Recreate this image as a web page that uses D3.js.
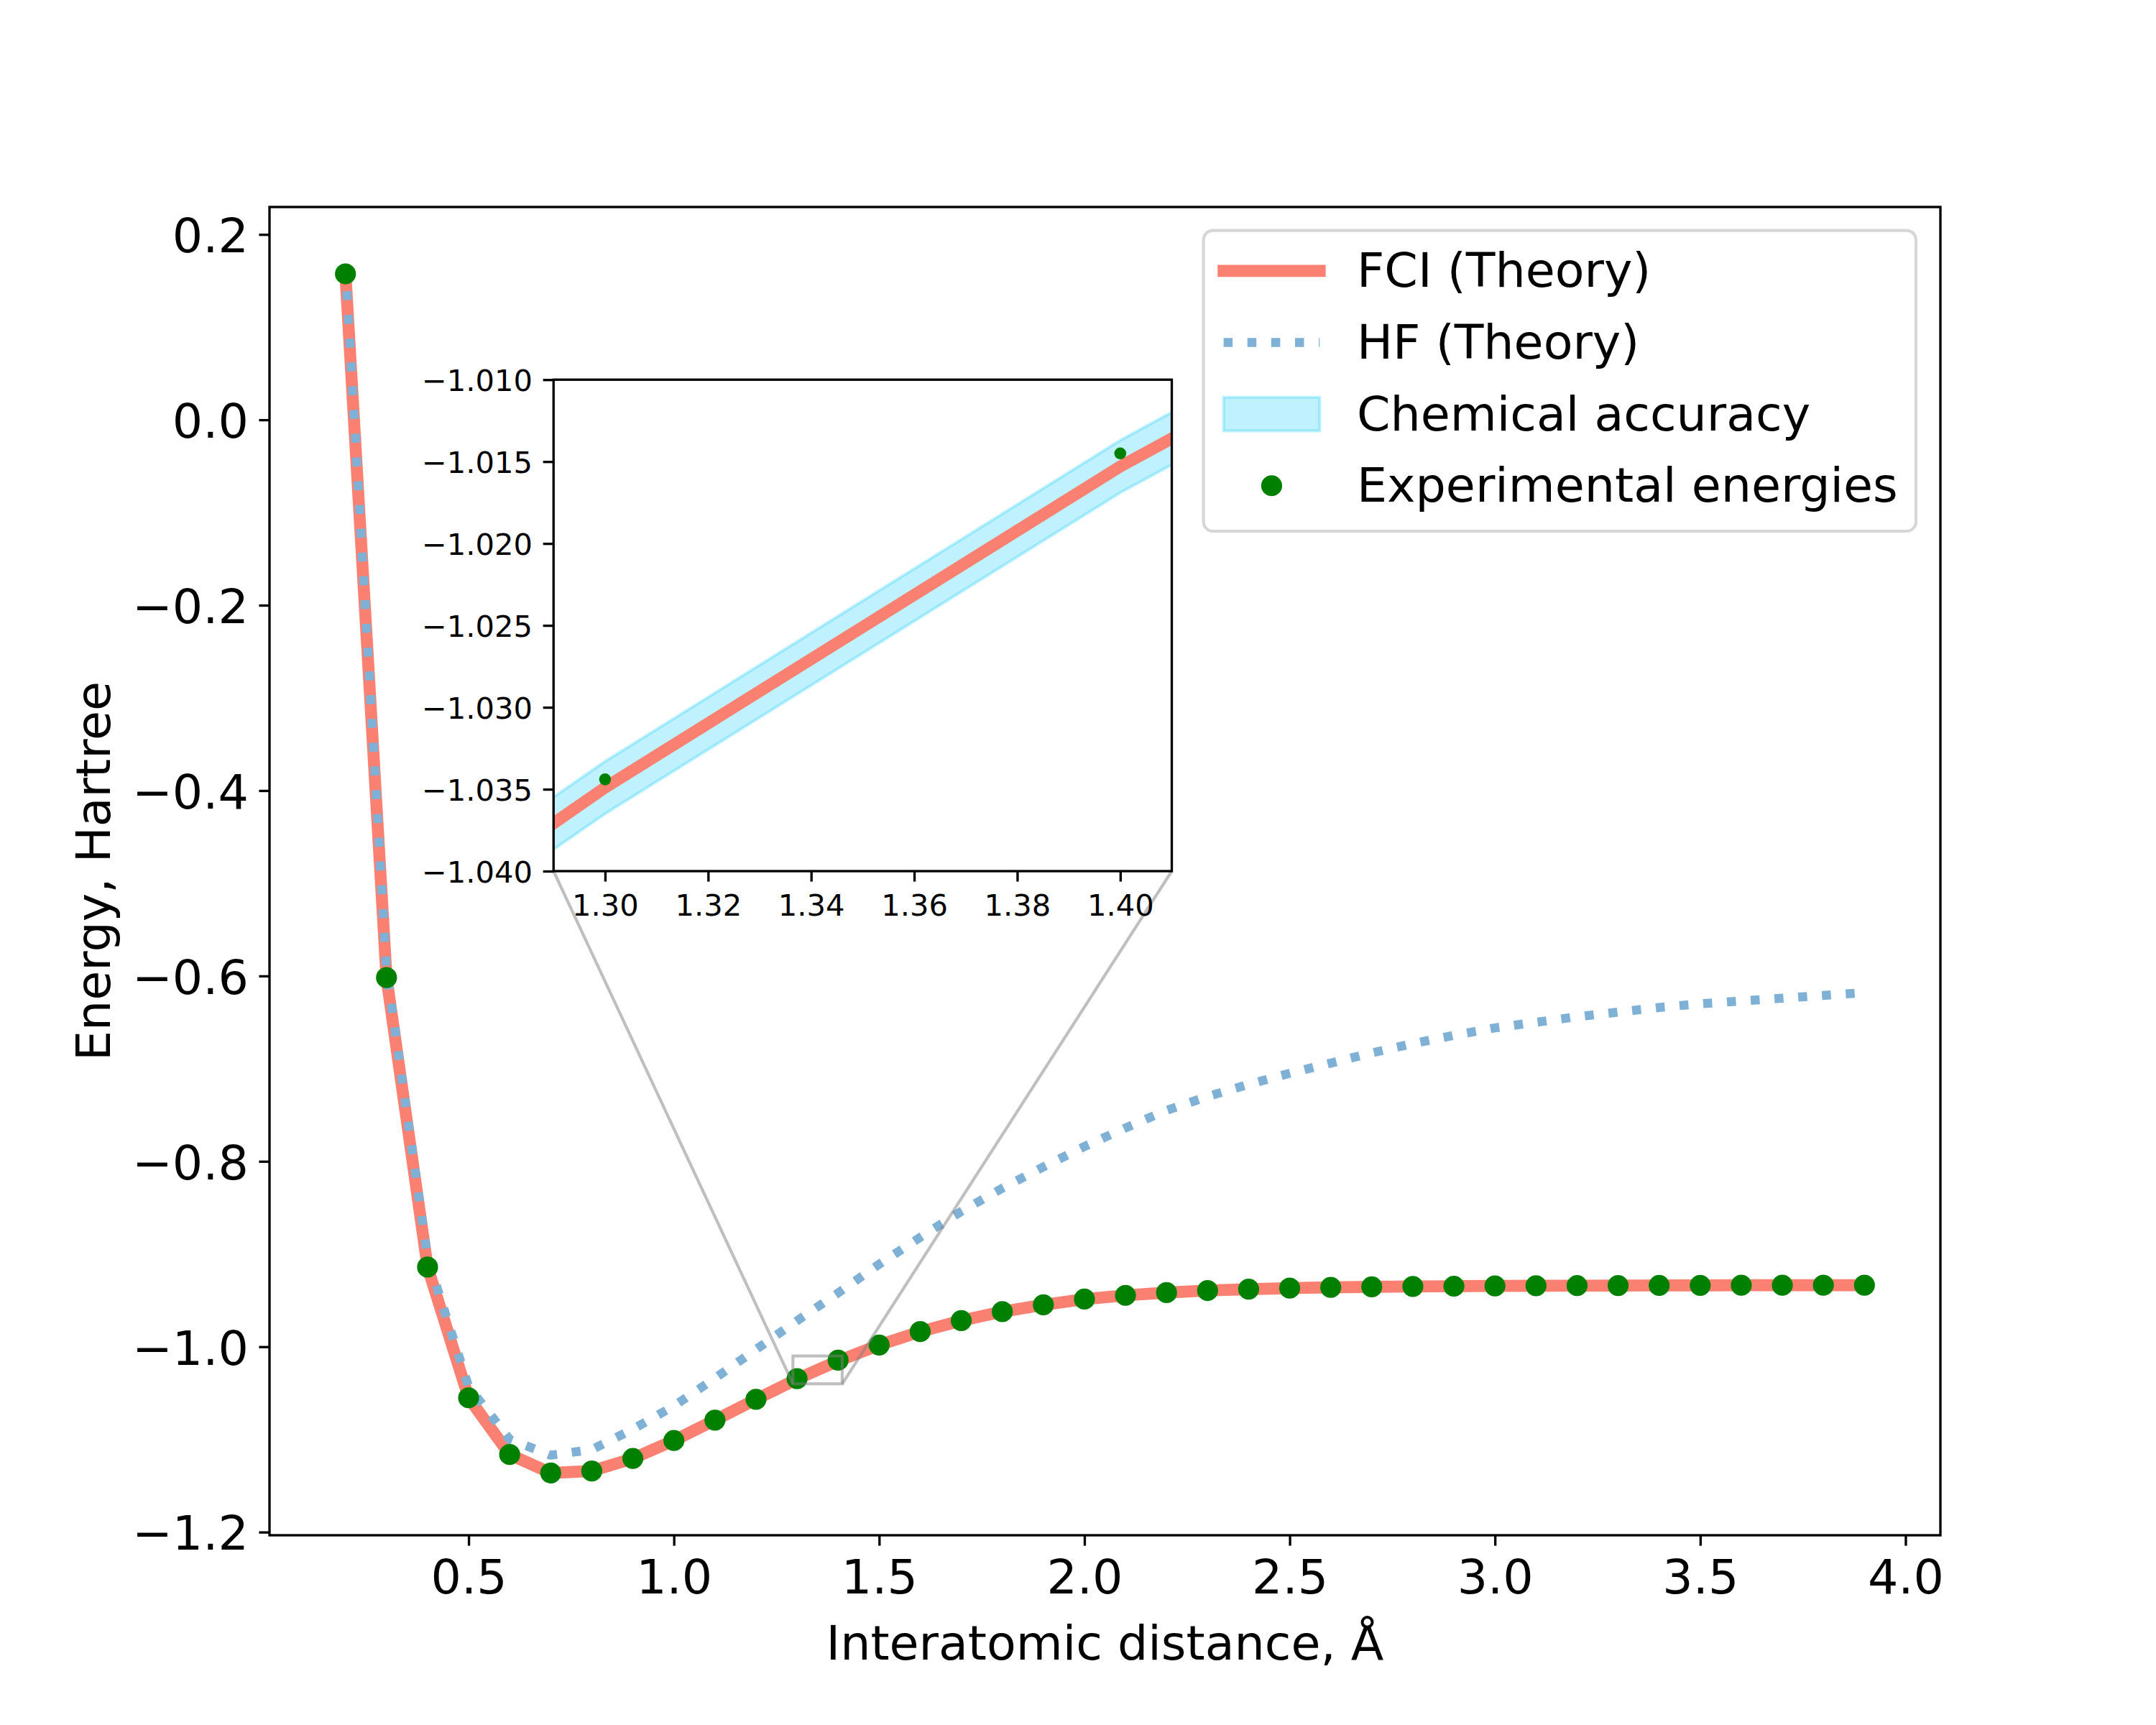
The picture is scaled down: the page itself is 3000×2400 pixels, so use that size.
<!DOCTYPE html>
<html>
<head>
<meta charset="utf-8">
<script src="https://cdn.jsdelivr.net/npm/d3@7"></script>
<style>html,body{margin:0;padding:0;background:#fff}</style>
</head>
<body>
<svg id="chart" width="3000" height="2400" xmlns="http://www.w3.org/2000/svg"></svg>
<script>
// ---------------- data ----------------
const distances = [0.2,0.3,0.4,0.5,0.6,0.7,0.8,0.9,1.0,1.1,1.2,1.3,1.4,1.5,1.6,1.7,1.8,1.9,2.0,
  2.1,2.2,2.3,2.4,2.5,2.6,2.7,2.8,2.9,3.0,3.1,3.2,3.3,3.4,3.5,3.6,3.7,3.8,3.9];
const fciEnergies = [0.1575,-0.6018,-0.9141,-1.0551,-1.1163,-1.1362,-1.1341,-1.1206,-1.1012,-1.0792,
  -1.0567,-1.0349,-1.0153,-0.9982,-0.9837,-0.9718,-0.9622,-0.9548,-0.9486,-0.9446,-0.9416,-0.9394,
  -0.9379,-0.9368,-0.9360,-0.9354,-0.9350,-0.9347,-0.9344,-0.9342,-0.9341,-0.9340,-0.9339,-0.9338,
  -0.9337,-0.9337,-0.9336,-0.9336];
const hfEnergies = [0.1645,-0.5940,-0.9040,-1.0430,-1.1000,-1.1170,-1.1110,-1.0890,-1.0640,-1.0340,
  -1.0030,-0.9720,-0.9420,-0.9110,-0.8820,-0.8540,-0.8290,-0.8060,-0.7840,-0.7640,-0.7450,-0.7300,
  -0.7170,-0.7050,-0.6940,-0.6830,-0.6730,-0.6640,-0.6560,-0.6500,-0.6440,-0.6390,-0.6340,-0.6300,
  -0.6270,-0.6240,-0.6210,-0.6180];
const experimentalEnergies = [0.1575,-0.6018,-0.9141,-1.0551,-1.1163,-1.1362,-1.1341,-1.1206,-1.1012,-1.0792,
  -1.0567,-1.0344,-1.0145,-0.9982,-0.9837,-0.9718,-0.9622,-0.9548,-0.9486,-0.9446,-0.9416,-0.9394,
  -0.9379,-0.9368,-0.9360,-0.9354,-0.9350,-0.9347,-0.9344,-0.9342,-0.9341,-0.9340,-0.9339,-0.9338,
  -0.9337,-0.9337,-0.9336,-0.9336];
const chemicalAccuracy = 0.0016;

const xTickValues = [0.5,1.0,1.5,2.0,2.5,3.0,3.5,4.0];
const yTickValues = [-1.2,-1.0,-0.8,-0.6,-0.4,-0.2,0.0,0.2];
const insetXTickValues = [1.30,1.32,1.34,1.36,1.38,1.40];
const insetYTickValues = [-1.040,-1.035,-1.030,-1.025,-1.020,-1.015,-1.010];
const xDomain = [0.015, 4.085];
const yDomain = [-1.2034, 0.2296];
const insetXDomain = [1.29, 1.41];
const insetYDomain = [-1.04, -1.01];
const legendLabels = ["FCI (Theory)", "HF (Theory)", "Chemical accuracy", "Experimental energies"];
const xLabel = "Interatomic distance, Å";
const yLabel = "Energy, Hartree";

// ---------------- setup ----------------
const PT = 300 / 72;
const FONT = "DejaVu Sans";
const C_FCI = "#FA8072", C_HF = "#7fb1d6", C_EXP = "#008000";
const C_BAND = "rgba(0,200,250,0.25)";
const C_IND = "rgba(128,128,128,0.5)";
const M = {l: 375, r: 2700, t: 288, b: 2136};
const I = {l: M.l + 0.17 * (M.r - M.l), r: M.l + 0.54 * (M.r - M.l),
           b: M.b - 0.5 * (M.b - M.t), t: M.b - 0.87 * (M.b - M.t)};

const svg = d3.select("#chart");
svg.append("rect").attr("width", 3000).attr("height", 2400).attr("fill", "#fff");

const rows = distances.map((d, i) => ({d, fci: fciEnergies[i], hf: hfEnergies[i], exp: experimentalEnergies[i]}));

const defs = svg.append("defs");
defs.append("clipPath").attr("id", "clipMain").append("rect")
  .attr("x", M.l).attr("y", M.t).attr("width", M.r - M.l).attr("height", M.b - M.t);
defs.append("clipPath").attr("id", "clipInset").append("rect")
  .attr("x", I.l).attr("y", I.t).attr("width", I.r - I.l).attr("height", I.b - I.t);

function drawPanel(g, xs, ys, dotR) {
  const band = d3.area().x(r => xs(r.d)).y0(r => ys(r.fci - chemicalAccuracy)).y1(r => ys(r.fci + chemicalAccuracy));
  g.append("path").datum(rows).attr("d", band)
    .attr("fill", C_BAND).attr("stroke", C_BAND).attr("stroke-width", 1 * PT);
  const lineF = d3.line().x(r => xs(r.d)).y(r => ys(r.fci));
  g.append("path").datum(rows).attr("d", lineF).attr("fill", "none")
    .attr("stroke", C_FCI).attr("stroke-width", 4 * PT)
    .attr("stroke-linecap", "square").attr("stroke-linejoin", "round");
  return g;
}

function styleAxis(g, size) {
  g.select(".domain").remove();
  g.selectAll(".tick line").attr("stroke", "#000").attr("stroke-width", 0.8 * PT);
  g.selectAll(".tick text").attr("fill", "#000").attr("font-family", FONT).attr("font-size", size);
}

// ---------------- main axes ----------------
const x = d3.scaleLinear().domain(xDomain).range([M.l, M.r]);
const y = d3.scaleLinear().domain(yDomain).range([M.b, M.t]);

const main = svg.append("g").attr("clip-path", "url(#clipMain)");
drawPanel(main, x, y, 14.6);
const lineH = d3.line().x(r => x(r.d)).y(r => y(r.hf));
main.append("path").datum(rows).attr("d", lineH).attr("fill", "none")
  .attr("stroke", C_HF).attr("stroke-width", 3 * PT)
  .attr("stroke-dasharray", `${3 * PT} ${3 * PT * 1.65}`)
  .attr("stroke-linecap", "butt").attr("stroke-linejoin", "round");
main.selectAll("circle.exp").data(rows).join("circle").attr("class", "exp")
  .attr("cx", r => x(r.d)).attr("cy", r => y(r.exp)).attr("r", 14.6).attr("fill", C_EXP);

// spines
svg.append("rect").attr("x", M.l).attr("y", M.t).attr("width", M.r - M.l).attr("height", M.b - M.t)
  .attr("fill", "none").attr("stroke", "#000").attr("stroke-width", 0.8 * PT);

const gx = svg.append("g").attr("transform", `translate(0,${M.b})`)
  .call(d3.axisBottom(x).tickValues(xTickValues).tickFormat(d3.format(".1f")).tickSize(3.5 * PT).tickPadding(0));
styleAxis(gx, 16 * PT);
gx.selectAll(".tick text").attr("y", 80.5).attr("dy", 0).attr("text-anchor", "middle");

const gy = svg.append("g").attr("transform", `translate(${M.l},0)`)
  .call(d3.axisLeft(y).tickValues(yTickValues).tickFormat(d3.format(".1f")).tickSize(3.5 * PT).tickPadding(0));
styleAxis(gy, 16 * PT);
gy.selectAll(".tick text").attr("x", -29.2).attr("y", 0.3645 * 16 * PT).attr("dy", 0).attr("text-anchor", "end");

svg.append("text").attr("x", (M.l + M.r) / 2).attr("y", 2309).attr("text-anchor", "middle")
  .attr("font-family", FONT).attr("font-size", 16 * PT).attr("fill", "#000").text(xLabel);
svg.append("text").attr("transform", `translate(152.7,${(M.t + M.b) / 2}) rotate(-90)`).attr("text-anchor", "middle")
  .attr("font-family", FONT).attr("font-size", 16 * PT).attr("fill", "#000").text(yLabel);

// ---------------- zoom indicator ----------------
const rx0 = x(insetXDomain[0]), rx1 = x(insetXDomain[1]);
const ry0 = y(insetYDomain[1]), ry1 = y(insetYDomain[0]);
svg.append("rect").attr("x", rx0).attr("y", ry0).attr("width", rx1 - rx0).attr("height", ry1 - ry0)
  .attr("fill", "none").attr("stroke", C_IND).attr("stroke-width", 1 * PT);
svg.append("line").attr("x1", I.l).attr("y1", I.b).attr("x2", rx0).attr("y2", ry1)
  .attr("stroke", C_IND).attr("stroke-width", 1 * PT);
svg.append("line").attr("x1", I.r).attr("y1", I.b).attr("x2", rx1).attr("y2", ry1)
  .attr("stroke", C_IND).attr("stroke-width", 1 * PT);

// ---------------- inset ----------------
const xi = d3.scaleLinear().domain(insetXDomain).range([I.l, I.r]);
const yi = d3.scaleLinear().domain(insetYDomain).range([I.b, I.t]);
svg.append("rect").attr("x", I.l).attr("y", I.t).attr("width", I.r - I.l).attr("height", I.b - I.t).attr("fill", "#fff");
const inset = svg.append("g").attr("clip-path", "url(#clipInset)");
drawPanel(inset, xi, yi, 8.3);
inset.selectAll("circle.exp").data(rows).join("circle").attr("class", "exp")
  .attr("cx", r => xi(r.d)).attr("cy", r => yi(r.exp)).attr("r", 8.3).attr("fill", C_EXP);
svg.append("rect").attr("x", I.l).attr("y", I.t).attr("width", I.r - I.l).attr("height", I.b - I.t)
  .attr("fill", "none").attr("stroke", "#000").attr("stroke-width", 0.8 * PT);

const gxi = svg.append("g").attr("transform", `translate(0,${I.b})`)
  .call(d3.axisBottom(xi).tickValues(insetXTickValues).tickFormat(d3.format(".2f")).tickSize(3.5 * PT).tickPadding(0));
styleAxis(gxi, 10 * PT);
gxi.selectAll(".tick text").attr("y", 62).attr("dy", 0).attr("text-anchor", "middle");
const gyi = svg.append("g").attr("transform", `translate(${I.l},0)`)
  .call(d3.axisLeft(yi).tickValues(insetYTickValues).tickFormat(d3.format(".3f")).tickSize(3.5 * PT).tickPadding(0));
styleAxis(gyi, 10 * PT);
gyi.selectAll(".tick text").attr("x", -29.2).attr("y", 0.3645 * 10 * PT).attr("dy", 0).attr("text-anchor", "end");

// ---------------- legend ----------------
const LG = {x: 1674.6, y: 320.7, w: 991.4, h: 418.3};
const leg = svg.append("g");
leg.append("rect").attr("x", LG.x).attr("y", LG.y).attr("width", LG.w).attr("height", LG.h)
  .attr("rx", 13.3).attr("ry", 13.3).attr("fill", "rgba(255,255,255,0.8)")
  .attr("stroke", "rgba(204,204,204,0.8)").attr("stroke-width", 1 * PT);
const hx0 = 1702.6, hx1 = 1836.3, baseline0 = 399.3, step = 99.65;
legendLabels.forEach((lab, i) => {
  const base = baseline0 + i * step, cy = base - 22.5;
  if (i === 0) {
    leg.append("line").attr("x1", hx0).attr("x2", hx1).attr("y1", cy).attr("y2", cy)
      .attr("stroke", C_FCI).attr("stroke-width", 4 * PT).attr("stroke-linecap", "square");
  } else if (i === 1) {
    leg.append("line").attr("x1", hx0).attr("x2", hx1).attr("y1", cy).attr("y2", cy)
      .attr("stroke", C_HF).attr("stroke-width", 3 * PT)
      .attr("stroke-dasharray", `${3 * PT} ${3 * PT * 1.65}`).attr("stroke-linecap", "butt");
  } else if (i === 2) {
    leg.append("rect").attr("x", hx0).attr("y", cy - 0.35 * 16 * PT).attr("width", hx1 - hx0).attr("height", 0.7 * 16 * PT)
      .attr("fill", C_BAND).attr("stroke", C_BAND).attr("stroke-width", 1 * PT);
  } else {
    leg.append("circle").attr("cx", (hx0 + hx1) / 2).attr("cy", cy).attr("r", 14.6).attr("fill", C_EXP);
  }
  leg.append("text").attr("x", 1888).attr("y", base).attr("font-family", FONT).attr("font-size", 16 * PT)
    .attr("fill", "#000").text(lab);
});
</script>
</body>
</html>
